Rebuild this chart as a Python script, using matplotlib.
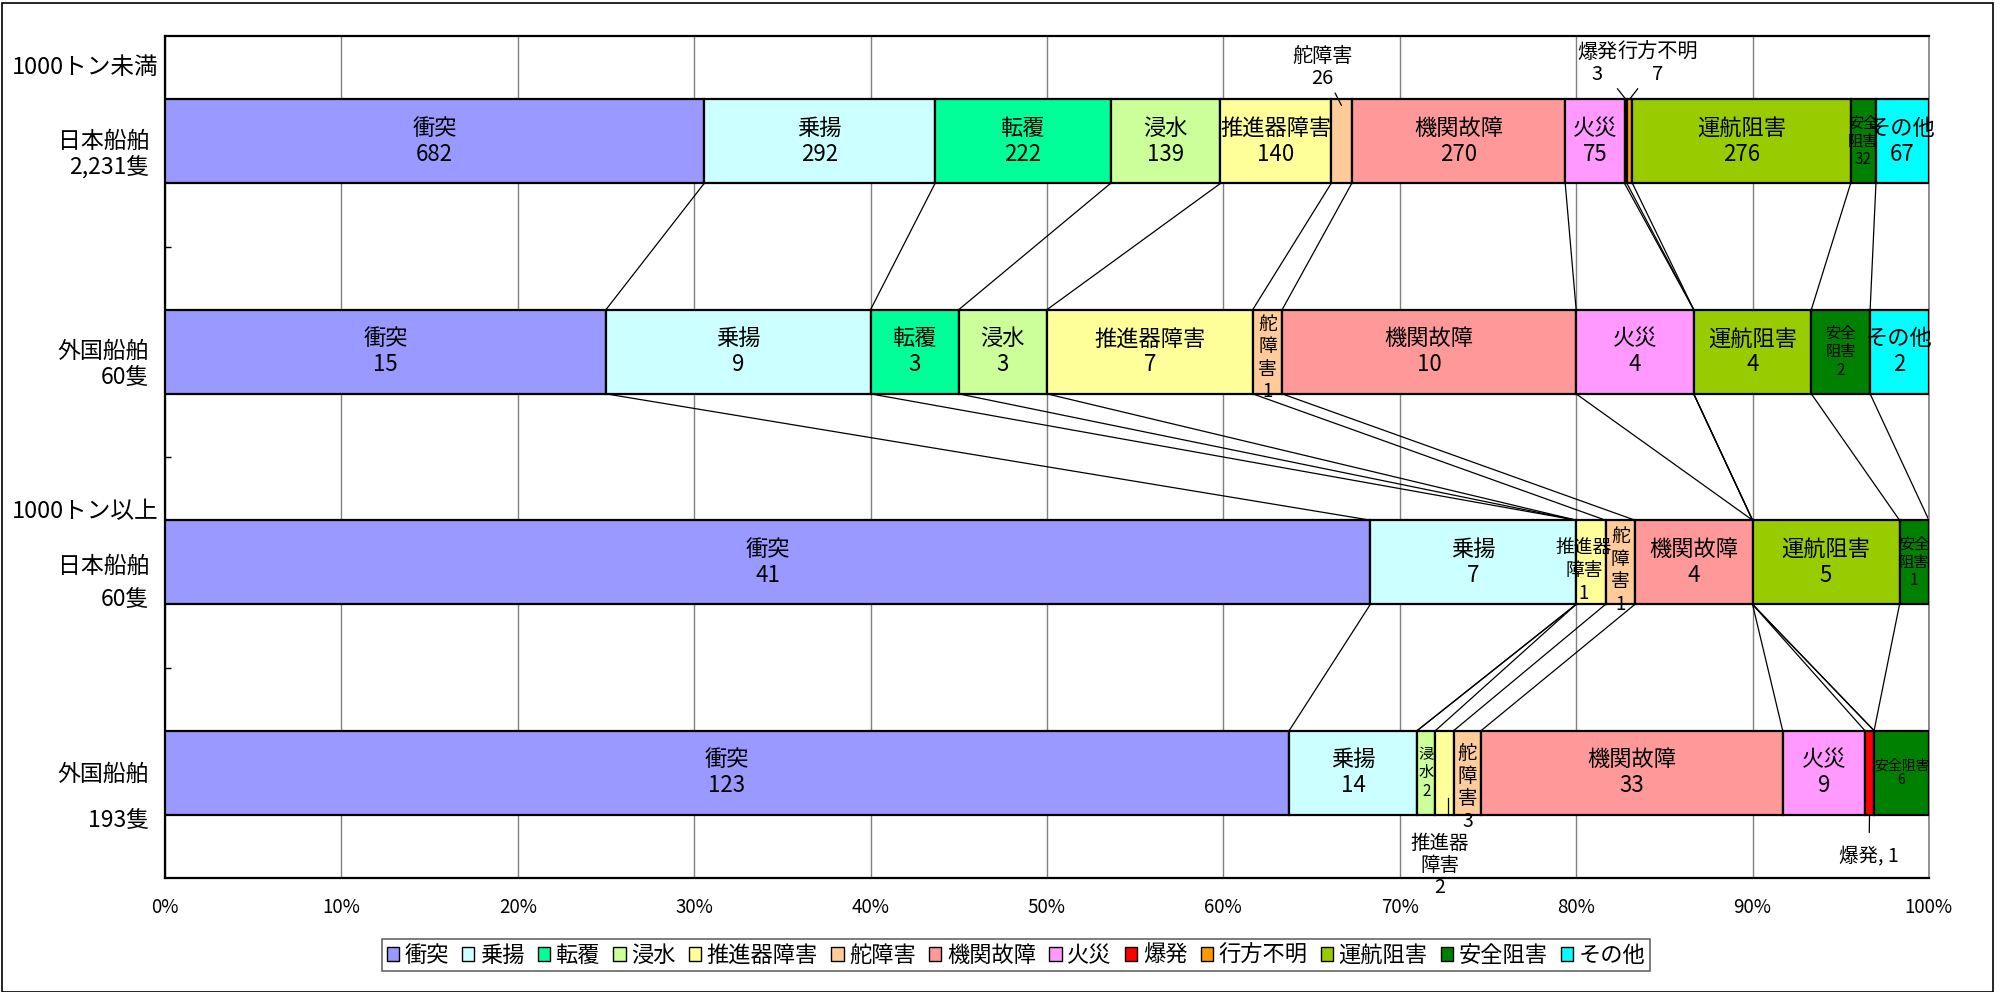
import matplotlib
matplotlib.use('Agg')
import matplotlib.pyplot as plt
from matplotlib.patches import Patch, Rectangle
import numpy as np

plt.rcParams['font.family'] = ['Noto Sans CJK JP', 'DejaVu Sans']

# 事故種類
categories = ['衝突', '乗揚', '転覆', '浸水', '推進器障害', '舵障害', '機関故障',
              '火災', '爆発', '行方不明', '運航阻害', '安全阻害', 'その他']
colors = ['#9999FF', '#CCFFFF', '#00FF99', '#CCFF99', '#FFFF99', '#FFCC99', '#FF9999',
          '#FF99FF', '#FF0000', '#FF9900', '#99CC00', '#008000', '#00FFFF']

# 隻数
jp_small = [682, 292, 222, 139, 140, 26, 270, 75, 3, 7, 276, 32, 67]
fo_small = [15, 9, 3, 3, 7, 1, 10, 4, 0, 0, 4, 2, 2]
jp_large = [41, 7, 0, 0, 1, 1, 4, 0, 0, 0, 5, 1, 0]
fo_large = [123, 14, 0, 2, 2, 3, 33, 9, 1, 0, 0, 6, 0]

row_names = ['日本船舶', '外国船舶', '日本船舶', '外国船舶']
row_counts = ['2,231隻', '60隻', '60隻', '193隻']
groups = ['1000トン未満', '1000トン以上']

bars = [jp_small, fo_small, jp_large, fo_large]

fig = plt.figure(figsize=(20.02, 9.92), dpi=100)
ax = fig.add_axes([0.0824, 0.1149, 0.8811, 0.8488])

bh = 0.4
ends = []
for i, vals in enumerate(bars):
    vals = np.array(vals, dtype=float)
    pct = vals / vals.sum() * 100
    cum = np.concatenate([[0], np.cumsum(pct)])
    ends.append(cum[1:])
    for k in range(len(vals)):
        if vals[k] == 0:
            continue
        ax.barh(i, pct[k], left=cum[k], height=bh, color=colors[k],
                edgecolor='black', linewidth=1.6, zorder=3)

# 系列線
for i in range(len(bars) - 1):
    for k in range(len(categories)):
        ax.plot([ends[i][k], ends[i + 1][k]], [i + bh / 2, i + 1 - bh / 2],
                color='black', lw=0.9, zorder=2)

# データラベル（狭い区画は個別指定: 文字, サイズ, x方向ずれ, y方向ずれ）
special = {
    (0, 5): None, (0, 8): None, (0, 9): None,
    (0, 11): ('安全\n阻害\n32', 11, 0.0, 0.0),
    (1, 5): ('舵\n障\n害\n1', 13.5, 0.0, 0.03),
    (1, 11): ('安全\n阻害\n2', 11, 0.0, 0.0),
    (2, 4): ('推進器\n障害\n1', 13.5, -0.4, 0.04),
    (2, 5): ('舵\n障\n害\n1', 13.5, 0.0, 0.04),
    (2, 11): ('安全\n阻害\n1', 11, 0.0, 0.0),
    (3, 3): ('浸\n水\n2', 11, 0.0, 0.0),
    (3, 4): None,
    (3, 5): ('舵\n障\n害\n3', 14, 0.0, 0.07),
    (3, 8): None,
    (3, 11): ('安全阻害\n6', 10, 0.0, 0.0),
}
for i, vals in enumerate(bars):
    pct = np.array(vals) / sum(vals) * 100
    for k, v in enumerate(vals):
        if v == 0:
            continue
        xc = ends[i][k] - pct[k] / 2
        if (i, k) in special:
            s = special[(i, k)]
            if s is None:
                continue
            ax.text(xc + s[2], i + s[3], s[0], ha='center', va='center', fontsize=s[1],
                    linespacing=1.1, zorder=5)
        else:
            ax.text(xc, i, f'{categories[k]}\n{v}', ha='center', va='center',
                    fontsize=16, linespacing=1.15, zorder=5)

def seg_center(i, k):
    pct = np.array(bars[i]) / sum(bars[i]) * 100
    return ends[i][k] - pct[k] / 2

lead = dict(arrowstyle='-', color='black', lw=0.9, shrinkA=1, shrinkB=0)
ax.annotate(f'{categories[5]}\n{jp_small[5]}', xy=(seg_center(0, 5), -0.17),
            xytext=(65.6, -0.35), ha='center', va='center', fontsize=14.5,
            linespacing=1.05, arrowprops=lead, annotation_clip=False)
ax.annotate(f'{categories[8]}\n{jp_small[8]}', xy=(seg_center(0, 8), -0.2),
            xytext=(81.2, -0.37), ha='center', va='center', fontsize=14.5,
            linespacing=1.05, arrowprops=lead, annotation_clip=False)
ax.annotate(f'{categories[9]}\n{jp_small[9]}', xy=(seg_center(0, 9), -0.2),
            xytext=(84.6, -0.37), ha='center', va='center', fontsize=14.5,
            linespacing=1.05, arrowprops=lead, annotation_clip=False)
x4 = seg_center(3, 4)
ax.plot([x4 + 0.2, x4 + 0.2], [3.12, 3.2], color='black', lw=0.9, zorder=5)
ax.text(72.26, 3.44, f'推進器\n障害\n{fo_large[4]}', ha='center', va='center',
        fontsize=14, linespacing=1.05, clip_on=False)
ax.annotate(f'{categories[8]}, {fo_large[8]}', xy=(seg_center(3, 8), 3.2),
            xytext=(96.6, 3.40), ha='center', va='center', fontsize=14,
            arrowprops=dict(arrowstyle='-', color='black', lw=0.9, shrinkA=-8, shrinkB=0),
            annotation_clip=False)

ax.set_xlim(0, 100)
ax.set_ylim(3.5, -0.5)
ax.set_xticks(range(0, 101, 10))
ax.set_xticklabels([f'{v}%' for v in range(0, 101, 10)], fontsize=13.5)
ax.tick_params(axis='x', length=0, pad=14)
ax.set_yticks([0.5, 1.5, 2.5])
ax.set_yticklabels([])
ax.tick_params(axis='y', direction='in', length=4, width=1)
ax.set_axisbelow(True)
ax.xaxis.grid(True, color='#808080', lw=1)
for sp in ax.spines.values():
    sp.set_linewidth(1.6)
    sp.set_color('black')
ax.spines['right'].set_color('#808080')
ax.spines['right'].set_linewidth(1.2)

# 行ラベル
tr = ax.get_yaxis_transform()
lab_x = (149 / 2002 - 0.0824) / 0.8811
grp_x = (12 / 2002 - 0.0824) / 0.8811
first = [0.0, 0.0, 0.02, 0.008]
second = [0.12, 0.12, 0.175, 0.225]
for i in range(4):
    ax.text(lab_x, i + first[i], row_names[i], transform=tr, ha='right', va='center',
            fontsize=16.5, clip_on=False)
    ax.text(lab_x, i + second[i], row_counts[i], transform=tr, ha='right', va='center',
            fontsize=16.5, clip_on=False)
ax.text(grp_x, -0.35, groups[0], transform=tr, ha='left', va='center', fontsize=17)
ax.text(grp_x, 1.76, groups[1], transform=tr, ha='left', va='center', fontsize=17)

handles = [Patch(facecolor=c, edgecolor='black', lw=1) for c in colors]
leg = fig.legend(handles, categories, loc='center', bbox_to_anchor=(0.5075, 0.037),
                 ncol=13, fontsize=16, frameon=True, fancybox=False,
                 handlelength=0.55, handleheight=0.55, handletextpad=0.25,
                 columnspacing=0.6, borderpad=0.2)
leg.get_frame().set_edgecolor('#404040')
leg.get_frame().set_linewidth(1.2)

fig.patches.append(Rectangle((2 / 2002, 0), 1991 / 2002, 989 / 992, transform=fig.transFigure,
                             fill=False, edgecolor='black', lw=1.2))

fig.savefig('out.png', dpi=100)
